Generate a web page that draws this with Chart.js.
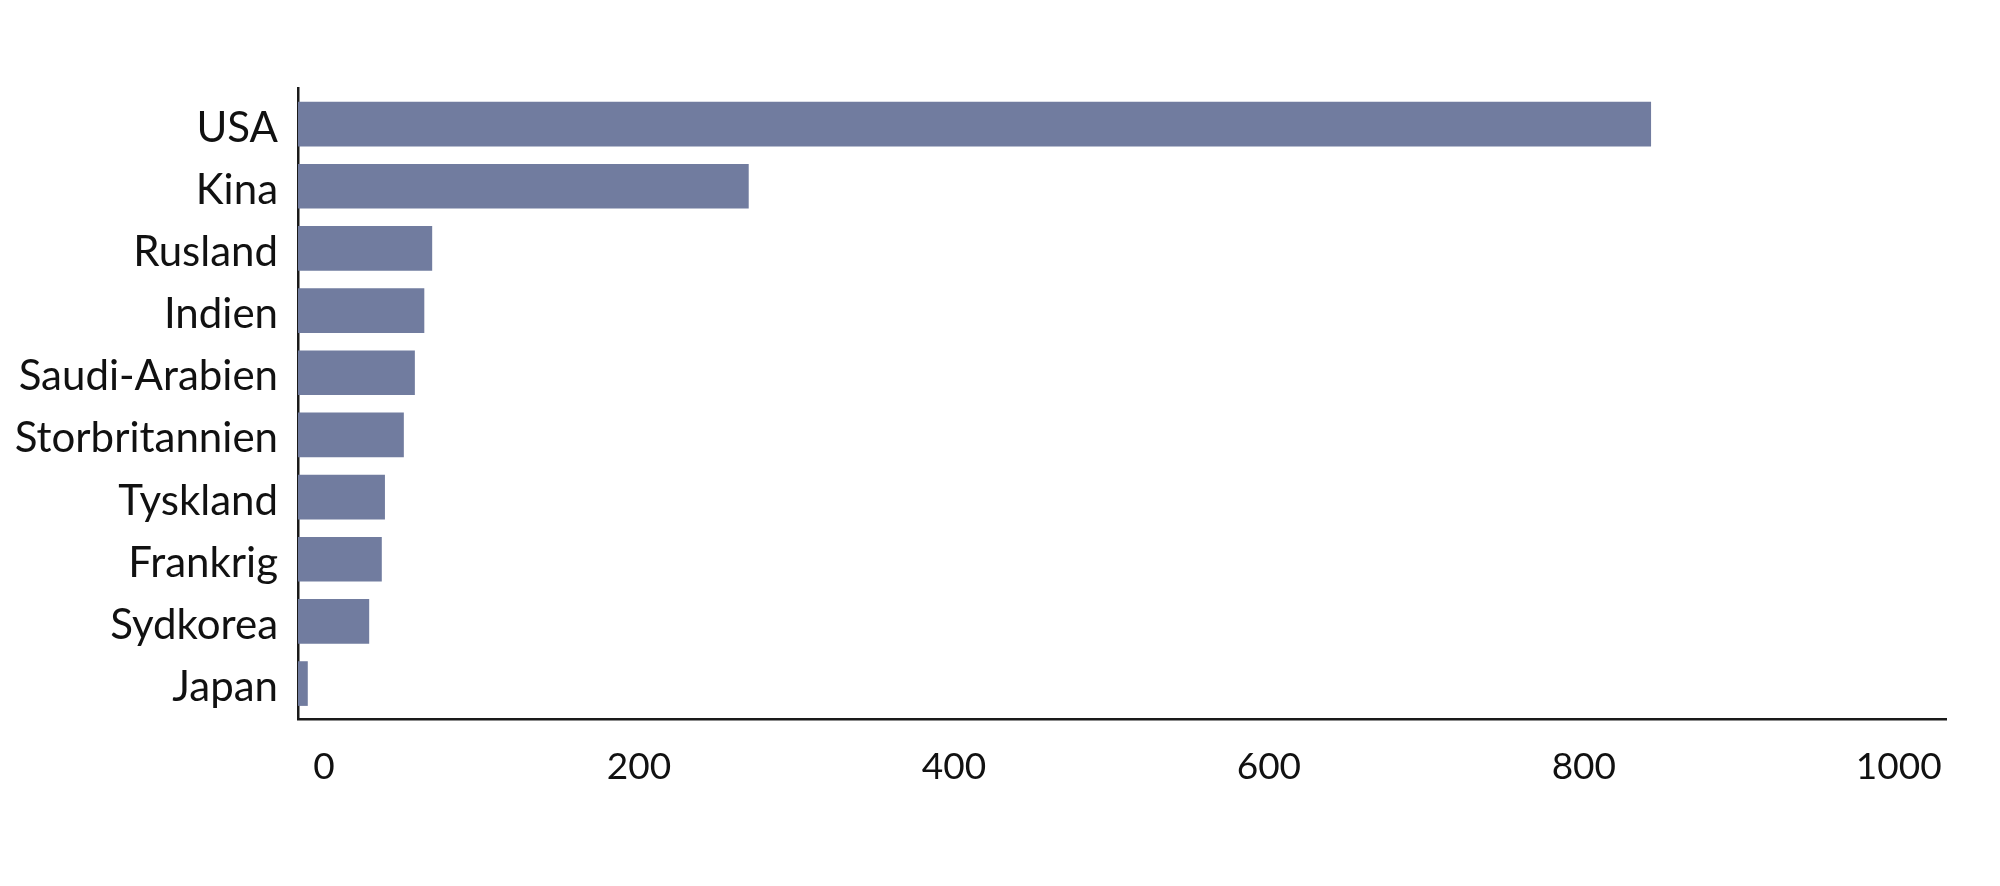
<!DOCTYPE html>
<html>
<head>
<meta charset="utf-8">
<script src="https://cdn.jsdelivr.net/npm/chart.js@4"></script>
<style>
  html, body { margin: 0; padding: 0; background: #fff; }
  #wrap { width: 2000px; height: 886px; }
</style>
</head>
<body>
<div id="wrap"><canvas id="chart" width="2000" height="886"></canvas></div>
<script>
    // Lande og værdier
    const countries = ['USA', 'Kina', 'Rusland', 'Indien', 'Saudi-Arabien', 'Storbritannien', 'Tyskland', 'Frankrig', 'Sydkorea', 'Japan'];
    const values = [859, 286, 85, 80, 74, 67, 55, 53, 45, 6];
    const xTicks = [0, 200, 400, 600, 800, 1000];

    const barColor = '#717c9f';
    const axisColor = '#1a1a1a';

    // Punkter: x = værdi, y = landets plads
    const points = values.map((v, i) => ({ x: v, y: i }));

    const ctx = document.getElementById('chart').getContext('2d');
    new Chart(ctx, {
        type: 'bar',
        data: {
            datasets: [{
                data: points,
                backgroundColor: barColor,
                borderWidth: 0,
                barThickness: 44
            }]
        },
        options: {
            indexAxis: 'y',
            responsive: false,
            animation: false,
            layout: { padding: { top: 88, right: 54, left: 0, bottom: 0 } },
            plugins: {
                legend: { display: false },
                tooltip: { enabled: false }
            },
            scales: {
                x: {
                    type: 'linear',
                    min: 0,
                    max: 1046.5,
                    grid: { display: false, drawTicks: false },
                    border: { display: true, color: axisColor, width: 2.5 },
                    afterBuildTicks: scale => { scale.ticks = xTicks.map(v => ({ value: v })); },
                    afterFit: scale => { scale.height = 167; },
                    ticks: {
                        color: '#111',
                        font: { family: 'Lato', size: 37 },
                        padding: 26,
                        labelOffset: 26,
                        maxRotation: 0,
                        callback: v => String(v)
                    }
                },
                y: {
                    type: 'linear',
                    reverse: true,
                    offset: false,
                    min: -0.58,
                    max: 9.57,
                    grid: { display: false, drawTicks: false },
                    border: { display: true, color: axisColor, width: 2.5 },
                    afterBuildTicks: scale => { scale.ticks = countries.map((c, i) => ({ value: i })); },
                    afterFit: scale => { scale.width = 298; },
                    ticks: {
                        color: '#111',
                        font: { family: 'Lato', size: 42 },
                        padding: 20,
                        labelOffset: 4,
                        callback: v => countries[v]
                    }
                }
            }
        }
    });
</script>
</body>
</html>
